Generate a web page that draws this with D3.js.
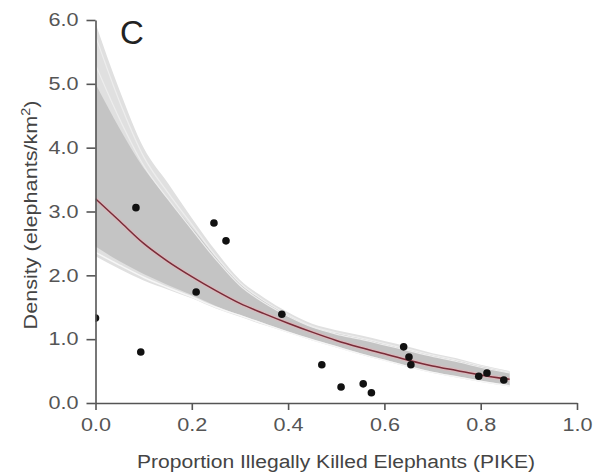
<!DOCTYPE html>
<html>
<head>
<meta charset="utf-8">
<script src="https://cdn.jsdelivr.net/npm/d3@7"></script>
<style>
  body { margin: 0; background: #fff; }
  text { font-family: "Liberation Sans", Arial, sans-serif; }
</style>
</head>
<body>
<div id="chart"></div>
<script>
// observed sites: PIKE vs density
var pike = [0.0, 0.084, 0.094, 0.209, 0.246, 0.271, 0.387, 0.47, 0.51, 0.556, 0.573, 0.64, 0.651, 0.655, 0.796, 0.813, 0.848];
var density = [1.33, 3.06, 0.80, 1.74, 2.82, 2.54, 1.39, 0.60, 0.25, 0.30, 0.16, 0.88, 0.72, 0.60, 0.42, 0.47, 0.36];

// fitted curve and posterior band
var gridX = [0, 0.05, 0.1, 0.15, 0.2, 0.25, 0.3, 0.35, 0.4, 0.45, 0.5, 0.55, 0.6, 0.65, 0.7, 0.75, 0.8, 0.86];
var fit = [3.2, 2.85, 2.5, 2.22, 1.98, 1.76, 1.56, 1.40, 1.25, 1.11, 0.98, 0.87, 0.77, 0.67, 0.58, 0.51, 0.44, 0.37];
var outerUpper = [5.95, 4.9, 4.0, 3.45, 2.9, 2.38, 1.93, 1.65, 1.42, 1.24, 1.14, 1.06, 0.97, 0.88, 0.78, 0.70, 0.60, 0.50];
var outerLower = [2.3, 2.1, 1.92, 1.78, 1.64, 1.48, 1.35, 1.22, 1.1, 0.98, 0.87, 0.76, 0.66, 0.56, 0.47, 0.40, 0.33, 0.26];
var innerUpper = [5.0, 4.3, 3.68, 3.2, 2.75, 2.28, 1.87, 1.6, 1.38, 1.2, 1.1, 1.02, 0.93, 0.84, 0.75, 0.67, 0.58, 0.48];
var innerLower = [2.45, 2.22, 2.02, 1.85, 1.69, 1.52, 1.38, 1.25, 1.12, 1.0, 0.89, 0.78, 0.68, 0.58, 0.49, 0.42, 0.35, 0.28];
// a few lighter posterior draws visible in the band
var drawHigh = [5.75, 4.72, 3.86, 3.3, 2.8, 2.3, 1.88, 1.6, 1.38, 1.2, 1.1, 1.02, 0.93, 0.84, 0.75, 0.67, 0.58, 0.48];
var drawMid = [5.3, 4.45, 3.72, 3.2, 2.72, 2.25, 1.84, 1.57, 1.36, 1.19, 1.08, 1.0, 0.91, 0.82, 0.73, 0.65, 0.56, 0.47];
var drawLow = [2.36, 2.16, 1.97, 1.81, 1.66, 1.5, 1.37, 1.24, 1.11, 0.99, 0.88, 0.77, 0.67, 0.57, 0.48, 0.41, 0.34, 0.27];

var xTicks = [0, 0.2, 0.4, 0.6, 0.8, 1.0];
var yTicks = [0, 1, 2, 3, 4, 5, 6];

var width = 597, height = 476;
var stretch = 1.2; // the source figure is a little wide-set

var svg = d3.select("#chart").append("svg")
    .attr("width", width)
    .attr("height", height);

var x = d3.scaleLinear().domain([0, 1]).range([95.5, 577]);
var y = d3.scaleLinear().domain([0, 6]).range([403, 20]);

svg.append("defs").append("clipPath")
    .attr("id", "plot")
    .append("rect")
    .attr("x", x(0)).attr("y", 0)
    .attr("width", x(1) - x(0)).attr("height", y(0));

var g = svg.append("g").attr("clip-path", "url(#plot)");

function band(lo, hi) {
  return d3.area()
      .x(function (d, i) { return x(gridX[i]); })
      .y0(function (d, i) { return y(lo[i]); })
      .y1(function (d, i) { return y(hi[i]); })
      .curve(d3.curveMonotoneX)(gridX);
}

var line = d3.line()
    .x(function (d, i) { return x(gridX[i]); })
    .y(function (d) { return y(d); })
    .curve(d3.curveMonotoneX);

g.append("path").attr("d", band(outerLower, outerUpper)).attr("fill", "#e0e0e0");
g.append("path").attr("d", band(innerLower, innerUpper)).attr("fill", "#c4c4c4");

[drawHigh, drawMid].forEach(function (s) {
  g.append("path").datum(s).attr("d", line)
      .attr("fill", "none").attr("stroke", "#ededed").attr("stroke-width", 1.2);
});
g.append("path").datum(drawLow).attr("d", line)
    .attr("fill", "none").attr("stroke", "#f6f6f6").attr("stroke-width", 1.5);

// fitted mean
g.append("path").datum(fit).attr("d", line)
    .attr("fill", "none").attr("stroke", "#e3b2b8").attr("stroke-width", 4).attr("opacity", 0.6);
g.append("path").datum(fit).attr("d", line)
    .attr("fill", "none").attr("stroke", "#7a2c38").attr("stroke-width", 1.5);

g.selectAll("circle").data(pike).enter().append("circle")
    .attr("cx", function (d) { return x(d); })
    .attr("cy", function (d, i) { return y(density[i]); })
    .attr("r", 3.8)
    .attr("fill", "#111");

// axes
var xAxis = svg.append("g")
    .attr("transform", "translate(0," + y(0) + ")")
    .call(d3.axisBottom(x).tickValues(xTicks).tickSize(7).tickSizeOuter(0).tickPadding(8).tickFormat(d3.format(".1f")));
var yAxis = svg.append("g")
    .attr("transform", "translate(" + x(0) + ",0)")
    .call(d3.axisLeft(y).tickValues(yTicks).tickSize(9).tickSizeOuter(0).tickPadding(8).tickFormat(d3.format(".1f")));

[xAxis, yAxis].forEach(function (a) {
  a.select(".domain").attr("stroke", "#555").attr("stroke-width", 1.6);
  a.selectAll(".tick line").attr("stroke", "#555").attr("stroke-width", 1.6);
  a.selectAll(".tick text").attr("fill", "#555").style("font-size", "18px").style("font-family", "'Liberation Sans', Arial, sans-serif");
});

var xl = svg.append("text")
    .attr("x", 336).attr("y", 468)
    .attr("text-anchor", "middle")
    .attr("fill", "#444")
    .style("font-size", "18px")
    .text("Proportion Illegally Killed Elephants (PIKE)");

var yl = svg.append("text")
    .attr("transform", "translate(37,215) rotate(-90)")
    .attr("text-anchor", "middle")
    .attr("fill", "#444")
    .style("font-size", "18px");
yl.append("tspan").text("Density (elephants/km");
yl.append("tspan").attr("dy", -7).style("font-size", "12px").text("2");
yl.append("tspan").attr("dy", 7).text(")");

// widen labels to match the figure's proportions
svg.selectAll(".tick text").each(function () {
  var w = this.getComputedTextLength();
  d3.select(this).attr("textLength", w * stretch).attr("lengthAdjust", "spacingAndGlyphs");
});
xl.attr("textLength", xl.node().getComputedTextLength() * 1.17).attr("lengthAdjust", "spacingAndGlyphs");
yl.selectAll("tspan").each(function () {
  var w = this.getComputedTextLength();
  d3.select(this).attr("textLength", w * stretch).attr("lengthAdjust", "spacingAndGlyphs");
});

svg.append("text")
    .attr("x", 120).attr("y", 44)
    .attr("fill", "#222")
    .style("font-size", "33px")
    .text("C");
</script>
</body>
</html>
